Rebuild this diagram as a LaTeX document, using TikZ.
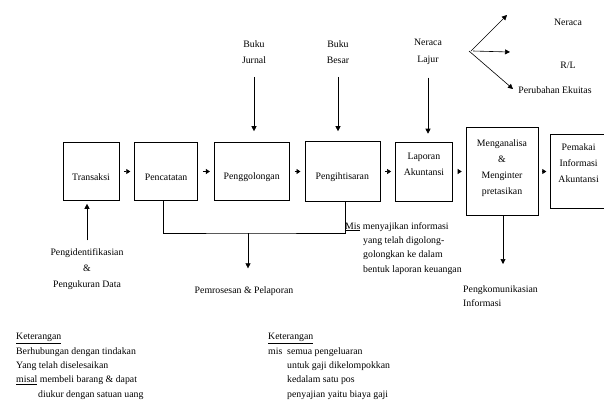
\documentclass[tikz,border=0pt]{standalone}
\usepackage{fontspec}
\setmainfont{Liberation Serif}
\newfontfamily\serifku{Liberation Serif}
\usetikzlibrary{positioning,arrows.meta}
\newcommand\atas{\rule{0pt}{19pt}}
\newcommand\bawah[1]{\rule[-#1]{0pt}{#1}}

\begin{document}
\begin{tikzpicture}[x=1pt, y=-1pt,
    every node/.style={font=\serifku\fontsize{9.8}{14.4}\selectfont},
    box/.style={draw, line width=0.6pt, align=center, inner sep=2pt, minimum height=58pt, font=\serifku\fontsize{9.8}{16}\selectfont},
    teks/.style={align=center, inner sep=0pt},
    catatan/.style={align=left, inner sep=0pt, anchor=north west},
    garis/.style={line width=0.6pt},
    flow/.style={line width=0.6pt, -{Triangle[length=4pt,width=5pt]}, shorten <=5pt, shorten >=4pt},
    tunjuk/.style={line width=0.6pt, -{Triangle[length=5pt,width=5pt]}}]
          \useasboundingbox (0,0) rectangle (604,408);
          \node[box, minimum width=56pt](transaksi) at (91,171.5)              {\atas Transaksi};
          \node[box, minimum width=63pt](pencatatan)  [right=15pt of transaksi]  {\atas Pencatatan};
          \node[box, minimum width=75pt](penggolongan)[right=16pt of pencatatan] {\atas Penggolongan};
          \node[box, minimum width=75pt, minimum height=60pt](ikhtisar) [right=15pt of penggolongan] {\atas Pengihtisaran};
          \node[box, minimum width=57pt, minimum height=59pt](laporan)  [right=15pt of ikhtisar]     {Laporan\\Akuntansi\bawah{14pt}};
          \node[box, minimum width=72pt, minimum height=88pt](analisa)  [right=13pt of laporan]      {Menganalisa\\\&\\Menginter\\pretasikan\bawah{9pt}};
          \node[box, minimum width=56pt, minimum height=74pt](pemakai)  [right=12pt of analisa]      {Pemakai\\Informasi\\Akuntansi\bawah{17pt}};
          \node[teks](jurnal)   at (254,52)  {Buku\\[2pt]Jurnal};
          \node[teks](besar)    at (338,52)  {Buku\\[2pt]Besar};
          \node[teks](lajur)    at (428,52)  {Neraca\\[2pt]Lajur};
          \node[teks](neraca)   at (568,22)  {Neraca};
          \node[teks](rl)       at (568,65)  {R/L};
          \node[teks](ekuitas)  at (555,90)  {Perubahan Ekuitas};
          \node[teks, font=\serifku\fontsize{9.8}{16}\selectfont](identifikasi) at (87,269) {Pengidentifikasian\\\&\\Pengukuran Data};
          \node[teks](proses)   at (244,291) {Pemrosesan \& Pelaporan};
          \node[catatan](mis)   at (345,222) {\underline{Mis} menyajikan informasi\\\hspace*{18pt}yang telah digolong-\\\hspace*{18pt}golongkan ke dalam\\\hspace*{18pt}bentuk laporan keuangan};
          \node[catatan](komunikasi) at (463,285) {Pengkomunikasian\\Informasi};
          \node[catatan](ket1)  at (16,333)  {\underline{Keterangan}\\Berhubungan dengan tindakan\\Yang telah diselesaikan\\\underline{misal} membeli barang \& dapat\\\hspace*{22pt}diukur dengan satuan uang};
          \node[catatan](ket2)  at (268,333) {\underline{Keterangan}\\\makebox[19pt][l]{mis}semua pengeluaran\\\hspace*{19pt}untuk gaji dikelompokkan\\\hspace*{19pt}kedalam satu pos\\\hspace*{19pt}penyajian yaitu biaya gaji};
          \coordinate (cabang) at (471,51);
          \coordinate (ujung1) at (507,15);
          \coordinate (ujung2) at (510,52);
          \coordinate (ujung3) at (513,89);
          \coordinate (gabung) at (248,233);
          \path
            (transaksi) edge[flow] (pencatatan)
            (pencatatan) edge[flow] (penggolongan)
            (penggolongan) edge[flow] (ikhtisar)
            (ikhtisar) edge[flow] (laporan)
            (laporan) edge[flow] (analisa)
            (analisa) edge[flow] (pemakai)
            ;
          \draw[tunjuk, shorten <=13pt, shorten >=11pt] (jurnal.south) -- (jurnal.south |- penggolongan.north);
          \draw[tunjuk, shorten <=13pt, shorten >=10pt] (besar.south) -- (besar.south |- ikhtisar.north);
          \draw[tunjuk, shorten <=13pt, shorten >=8pt] (lajur.south) -- (lajur.south |- laporan.north);
          \draw[tunjuk] (cabang) -- (ujung1);
          \draw[tunjuk] ([xshift=2pt]cabang) -- (ujung2);
          \draw[tunjuk] ([xshift=-2pt]cabang) -- (ujung3);
          \draw[tunjuk, shorten <=8pt, shorten >=3pt] (identifikasi.north) -- (identifikasi.north |- transaksi.south);
          \draw[garis] ([xshift=-2.5pt]pencatatan.south) |- (gabung) -| ([xshift=2.5pt]ikhtisar.south);
          \draw[tunjuk, shorten >=18pt] (gabung) -- (gabung |- proses.north);
          \draw[tunjuk, shorten >=21pt] ([xshift=1pt]analisa.south) -- ([xshift=1pt]analisa.south |- komunikasi.north);
        \end{tikzpicture}
\end{document}
